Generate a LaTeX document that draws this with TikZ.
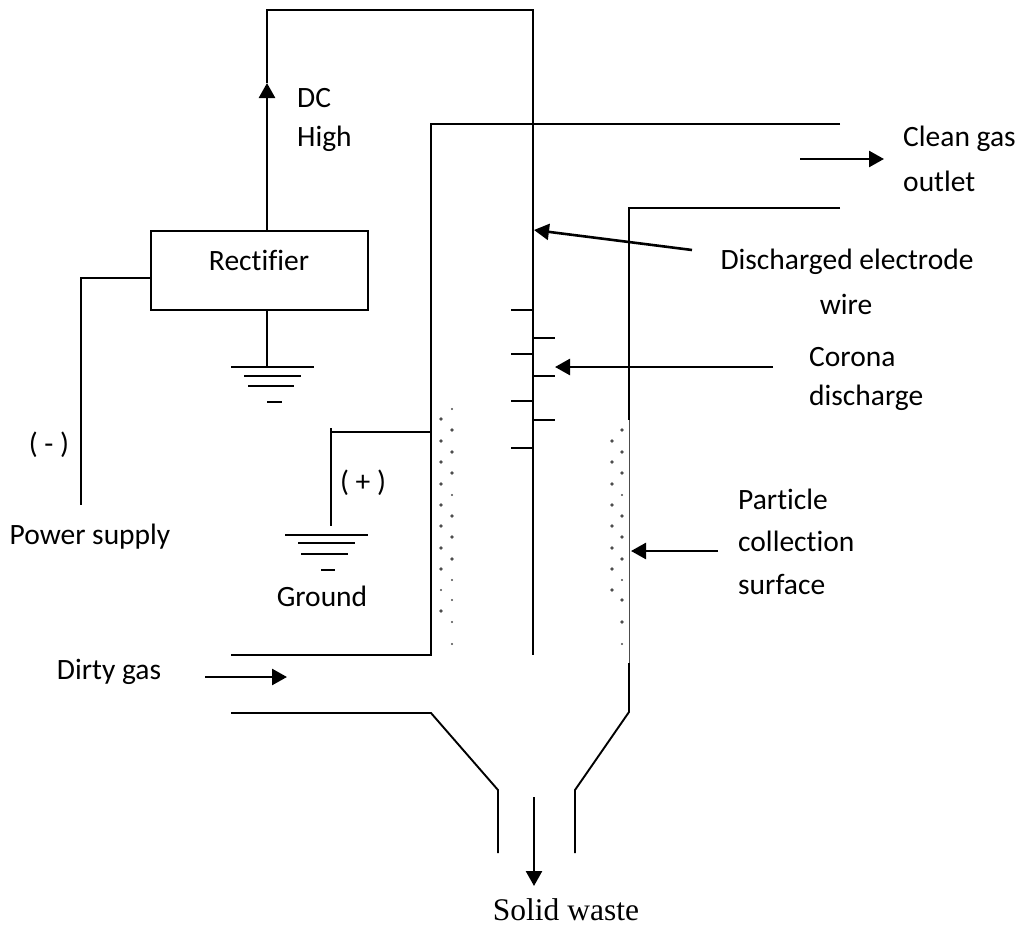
\documentclass[tikz,border=0pt]{standalone}
\usepackage{fontspec}
\setmainfont[Ligatures=NoCommon]{Carlito}
\newfontfamily\serifl{Liberation Serif}
\usetikzlibrary{arrows.meta}
\tikzset{
  wire/.style={draw=black,line width=1.9pt},
  flow/.style={draw=black,line width=2.6pt,-{Triangle[length=15pt,width=16pt]}},
  lbl/.style={inner sep=0pt,font=\fontsize{29.5}{35}\selectfont,align=center},
  box/.style={draw=black,line width=2pt,minimum width=217pt,minimum height=79pt,inner sep=0pt},
  speck/.style={fill=black!70,draw=none,circle,minimum size=3.6pt,inner sep=0pt},
  mote/.style={fill=black!70,draw=none,circle,minimum size=2.2pt,inner sep=0pt}
}
\begin{document}
\begin{tikzpicture}[x=1pt,y=-1pt]
\useasboundingbox (0,0) rectangle (1018,926);
% rectifier and its links
\node[box] (rect) at (259,270.5) {};
\node[lbl] (rectl) at (259,260) {Rectifier};
\coordinate (dcb) at (267,231);
\coordinate (dca) at (267,83);
\coordinate (g1t) at (267,310);
\coordinate (g1b) at (267,367);
\draw[flow] (dcb) -- (dca);
\coordinate (wt1) at (267,10);
\coordinate (wt2) at (533,10);
\coordinate (wb) at (533,655);
\draw[wire] (dca) -- (wt1) -- (wt2) -- (wb);
\draw[wire] (g1t) -- (g1b);
\foreach \y/\a/\b in {367/231/314,376/244/301,386/248/294,402/267/282}
  \draw[wire] (\a,\y) -- (\b,\y);
\coordinate (p1) at (150,278);
\coordinate (p2) at (81,278);
\coordinate (p3) at (81,505);
\draw[wire] (p1) -- (p2) -- (p3);
% housing
\draw[wire] (840,124) -- (431,124) -- (431,655) -- (231,655);
\draw[wire] (840,208) -- (629,208) -- (629,420);
\draw[draw=black!70,line width=1pt] (629,420) -- (629,663);
\draw[wire] (629,663) -- (629,712) -- (575,790) -- (575,853);
\draw[wire] (231,713) -- (431,713) -- (498,790) -- (498,853);
% second ground
\coordinate (g2r) at (431,432);
\coordinate (g2c) at (331,432);
\coordinate (g2t) at (331,428);
\coordinate (g2b) at (331,526);
\draw[wire] (g2r) -- (g2c);
\draw[wire] (g2t) -- (g2b);
\foreach \y/\a/\b in {535/285/368,543/298/355,554/301/348,570/321/335}
  \draw[wire] (\a,\y) -- (\b,\y);
% discharge ticks
\foreach \y in {310,354,401,448} \draw[wire] (511,\y) -- (533,\y);
\foreach \y in {338,376,420} \draw[wire] (533,\y) -- (555,\y);
% collected particles
\foreach \x/\ys in {441/{419,441,462,484,505,526,548,569,611},452/{430,452,473,516,537,559},612/{441,462,484,505,526,548,569,590},622/{430,452,473,516,537,559,600,622}}
  \foreach \y in \ys \node[speck] at (\x,\y) {};
\foreach \x/\ys in {441/{590},452/{409,495,580,600,622,644},622/{495,580,644}}
  \foreach \y in \ys \node[mote] at (\x,\y) {};
% flow arrows
\coordinate (a1s) at (800,159); \coordinate (a1e) at (884,159);
\coordinate (a2s) at (205,677); \coordinate (a2e) at (287,677);
\coordinate (a3s) at (692,250); \coordinate (a3e) at (534,230);
\coordinate (a4s) at (773,367); \coordinate (a4e) at (555,367);
\coordinate (a5s) at (718,551); \coordinate (a5e) at (631,551);
\coordinate (a6s) at (534,797); \coordinate (a6e) at (534,886);
\draw[flow] (a1s) -- (a1e);
\draw[flow] (a2s) -- (a2e);
\draw[flow] (a3s) -- (a3e);
\draw[flow] (a4s) -- (a4e);
\draw[flow] (a5s) -- (a5e);
\draw[flow] (a6s) -- (a6e);
% labels
\node[lbl,anchor=west] (dc) at (297,98) {DC};
\node[lbl,anchor=west] (high) at (297,139) {High};
\node[lbl] (minus) at (49,445) {( - )};
\node[lbl] (plus) at (363,483) {( + )};
\node[lbl] (pow) at (90,537) {Power supply};
\node[lbl] (gnd) at (322,596) {Ground};
\node[lbl] (dirty) at (109,672) {Dirty gas};
\node[lbl,anchor=west] (clean) at (903,139) {Clean gas};
\node[lbl,anchor=west] (outlet) at (903,181) {outlet};
\node[lbl] (dis1) at (847,262) {Discharged electrode};
\node[lbl] (dis2) at (846,304) {wire};
\node[lbl,anchor=west] (cor1) at (809,357) {Corona};
\node[lbl,anchor=west] (cor2) at (809,398) {discharge};
\node[lbl,anchor=west] (par1) at (738,499) {Particle};
\node[lbl,anchor=west] (par2) at (738,541) {collection};
\node[lbl,anchor=west] (par3) at (738,584) {surface};
\node[lbl,font=\serifl\fontsize{31.5}{37}\selectfont] (waste) at (566,910) {Solid waste};
\end{tikzpicture}
\end{document}
